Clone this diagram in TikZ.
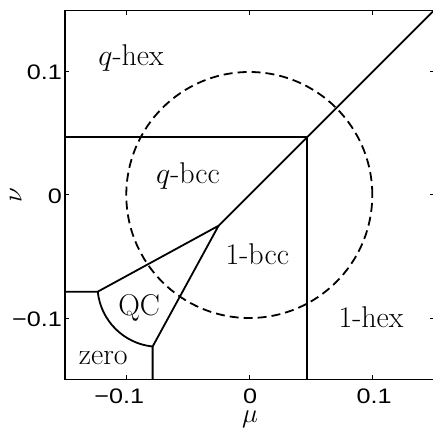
\RequirePackage{fix-cm}
\documentclass[tikz,border=0pt]{standalone}
\usepackage{fontspec}
\newfontfamily\tickfont[FakeStretch=1.2]{Liberation Sans}
\begin{document}
\begin{tikzpicture}[x=1230pt,y=1230pt,
  bnd/.style={line width=1.8pt, line join=round},
  frame/.style={line width=1.8pt, line join=miter},
  tickmark/.style={line width=1pt},
  region/.style={font=\fontsize{30}{36}\selectfont, inner sep=0pt, anchor=base},
  ticklab/.style={font=\tickfont\fontsize{21}{25}\selectfont, inner sep=0pt},
  axlab/.style={font=\fontsize{27}{32}\selectfont, inner sep=0pt, anchor=base}]
\useasboundingbox (-0.20268,-0.19106) rectangle (0.14935,0.15854);

% key points of the phase boundaries
\coordinate (TR) at (0.15,0.15);
\coordinate (U) at (0.047,0.047);
\coordinate (T) at (-0.025,-0.025);
\coordinate (A) at (-0.1232,-0.0786);
\coordinate (E) at (-0.0786,-0.1232);
\coordinate (UL) at (-0.15,0.047);
\coordinate (UB) at (0.047,-0.15);
\coordinate (AL) at (-0.15,-0.0786);
\coordinate (EB) at (-0.0786,-0.15);

% frame (right spine lies outside the picture)
\draw[frame] (0.16,0.15) -- (-0.15,0.15) -- (-0.15,-0.15) -- (0.16,-0.15);

% ticks
\foreach \t in {-0.1,0,0.1} {
  \draw[tickmark] (\t,-0.15) -- ++(0,4pt);
  \draw[tickmark] (\t,0.15) -- ++(0,-4pt);
  \draw[tickmark] (-0.15,\t) -- ++(4pt,0);
  \draw[tickmark] (0.15,\t) -- ++(-4pt,0);
}

% phase boundaries
\draw[bnd] (UL) -- (U) -- (UB);
\draw[bnd] (T) -- (TR);
\draw[bnd] (AL) -- (A) -- (T) -- (E) -- (EB);
\draw[bnd] (A) arc[start angle=185.9, end angle=264.1, radius=61.5pt];

% dashed circle
\draw[bnd, dash pattern=on 9pt off 5pt] (0,0) circle[radius=123pt];

% region labels
\node[region] (qhex) at (-0.0961,0.1049) {$q$-hex};
\node[region] (qbcc) at (-0.0498,0.0095) {$q$-bcc};
\node[region] (obcc) at (0.0065,-0.0569) {1-bcc};
\node[region] (ohex) at (0.0989,-0.1076) {1-hex};
\node[region] (qc) at (-0.0895,-0.0976) {QC};
\node[region] (zero) at (-0.1187,-0.1376) {zero};

% tick labels
\node[ticklab, anchor=base] (xm) at (-0.1057,-0.1693) {−0.1};
\node[ticklab, anchor=base] (x0) at (0.0006,-0.1693) {0};
\node[ticklab, anchor=base] (xp) at (0.1015,-0.1693) {0.1};
\node[ticklab, anchor=base east] (ym) at (-0.1522,-0.1071) {−0.1};
\node[ticklab, anchor=base east] (y0) at (-0.1522,-0.0068) {0};
\node[ticklab, anchor=base east] (yp) at (-0.1522,0.0935) {0.1};

% axis labels
\node[axlab] (mu) at (0.0006,-0.1852) {$\mu$};
\node[axlab, rotate=90] (nu) at (-0.185,0) {$\nu$};
\end{tikzpicture}
\end{document}
